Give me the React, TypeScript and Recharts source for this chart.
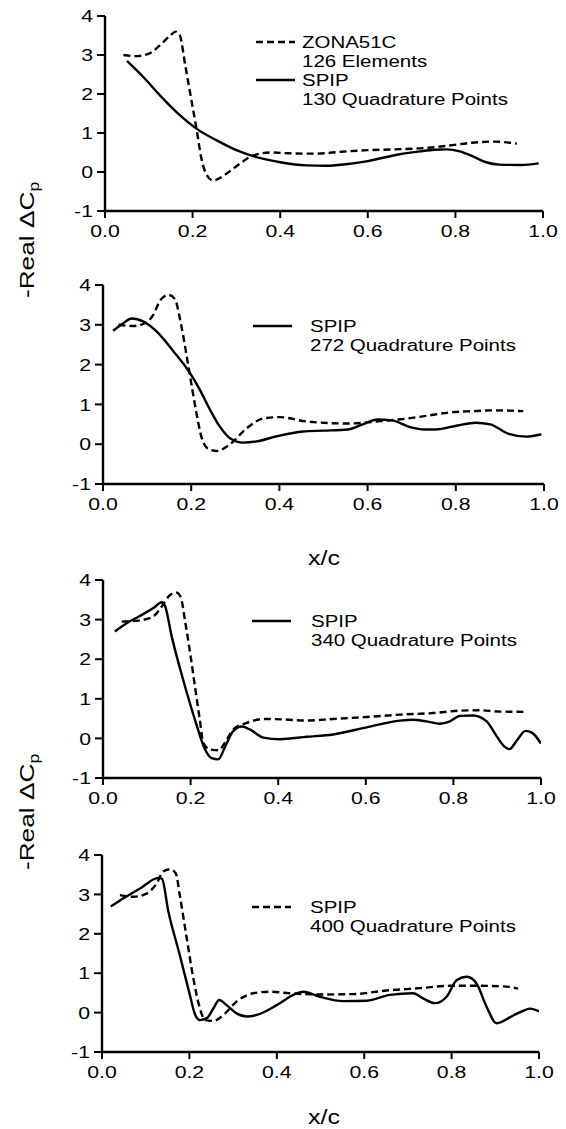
import { LineChart, Line, XAxis, YAxis } from 'recharts'

const FONT = '"Liberation Sans", Arial, Helvetica, sans-serif'
const SX = 1.25 // the scanned lettering is wide, stretch it a bit

type Pt = [number, number]

const xTicks = [0, 0.2, 0.4, 0.6, 0.8, 1.0]
const yTicks = [-1, 0, 1, 2, 3, 4]

// panel 1: ZONA51C 126 elements vs SPIP 130 points
const zona126: Pt[] = [
  [0.042, 3.0], [0.072, 2.97], [0.103, 3.05], [0.13, 3.3], [0.149, 3.5], [0.161, 3.6], [0.171, 3.5],
  [0.183, 2.75], [0.194, 2.05], [0.209, 1.1], [0.22, 0.35], [0.232, -0.07], [0.247, -0.22], [0.27, -0.1],
  [0.3, 0.15], [0.338, 0.42], [0.377, 0.5], [0.42, 0.48], [0.48, 0.47], [0.54, 0.52], [0.6, 0.56],
  [0.66, 0.58], [0.737, 0.62], [0.787, 0.68], [0.837, 0.75], [0.886, 0.78], [0.94, 0.73],
]
const spip130: Pt[] = [
  [0.05, 2.85], [0.088, 2.43], [0.126, 1.96], [0.164, 1.53], [0.213, 1.08], [0.255, 0.81], [0.3, 0.56],
  [0.346, 0.38], [0.4, 0.25], [0.46, 0.17], [0.505, 0.16], [0.55, 0.2], [0.6, 0.28], [0.67, 0.45],
  [0.72, 0.53], [0.753, 0.57], [0.78, 0.58], [0.81, 0.53], [0.84, 0.4], [0.87, 0.25], [0.9, 0.19],
  [0.95, 0.18], [0.99, 0.22],
]

// panel 2
const zona272: Pt[] = [
  [0.035, 3.0], [0.069, 2.97], [0.095, 3.04], [0.114, 3.25], [0.13, 3.62], [0.148, 3.75], [0.163, 3.65],
  [0.175, 3.12], [0.19, 2.2], [0.2, 1.54], [0.212, 0.78], [0.224, 0.15], [0.239, -0.12], [0.258, -0.17],
  [0.288, 0.0], [0.326, 0.4], [0.364, 0.65], [0.401, 0.68], [0.462, 0.57], [0.556, 0.52], [0.63, 0.58],
  [0.67, 0.62], [0.738, 0.72], [0.787, 0.8], [0.837, 0.83], [0.887, 0.85], [0.953, 0.83],
]
const spip272: Pt[] = [
  [0.023, 2.85], [0.046, 3.04], [0.065, 3.16], [0.092, 3.08], [0.122, 2.83], [0.16, 2.33], [0.197, 1.79],
  [0.22, 1.36], [0.243, 0.86], [0.265, 0.44], [0.288, 0.15], [0.318, 0.04], [0.349, 0.07], [0.394, 0.2],
  [0.454, 0.32], [0.5, 0.34], [0.556, 0.37], [0.589, 0.5], [0.622, 0.62], [0.655, 0.6], [0.696, 0.43],
  [0.73, 0.37], [0.754, 0.37], [0.804, 0.47], [0.845, 0.54], [0.878, 0.5], [0.92, 0.26], [0.96, 0.19],
  [0.994, 0.25],
]

// panel 3
const zona340: Pt[] = [
  [0.043, 2.95], [0.084, 2.98], [0.115, 3.08], [0.134, 3.33], [0.153, 3.62], [0.168, 3.68], [0.178, 3.55],
  [0.187, 2.99], [0.199, 2.15], [0.21, 1.31], [0.221, 0.47], [0.229, -0.11], [0.244, -0.28], [0.263, -0.3],
  [0.279, -0.1], [0.297, 0.22], [0.328, 0.39], [0.366, 0.49], [0.412, 0.48], [0.465, 0.45], [0.525, 0.49],
  [0.602, 0.54], [0.678, 0.6], [0.754, 0.64], [0.815, 0.7], [0.86, 0.71], [0.9, 0.68], [0.961, 0.67],
]
const spip340: Pt[] = [
  [0.027, 2.7], [0.054, 2.91], [0.084, 3.09], [0.115, 3.29], [0.134, 3.44], [0.142, 3.33], [0.157, 2.57],
  [0.183, 1.48], [0.21, 0.47], [0.233, -0.28], [0.248, -0.5], [0.263, -0.53], [0.279, -0.2], [0.297, 0.18],
  [0.317, 0.3], [0.336, 0.22], [0.366, 0.02], [0.404, -0.02], [0.465, 0.04], [0.525, 0.1], [0.602, 0.28],
  [0.678, 0.45], [0.708, 0.47], [0.739, 0.43], [0.769, 0.37], [0.792, 0.43], [0.815, 0.57], [0.845, 0.58],
  [0.876, 0.43], [0.899, 0.05], [0.918, -0.22], [0.928, -0.27], [0.945, -0.05], [0.965, 0.19], [0.98, 0.14],
  [1.0, -0.13],
]

// panel 4
const zona400: Pt[] = [
  [0.041, 2.98], [0.072, 2.94], [0.102, 3.02], [0.125, 3.28], [0.14, 3.58], [0.156, 3.64], [0.169, 3.53],
  [0.178, 2.98], [0.194, 1.88], [0.209, 0.87], [0.224, 0.11], [0.236, -0.19], [0.255, -0.21], [0.278, -0.06],
  [0.308, 0.28], [0.346, 0.49], [0.384, 0.53], [0.43, 0.49], [0.499, 0.46], [0.575, 0.47], [0.651, 0.56],
  [0.728, 0.62], [0.796, 0.68], [0.865, 0.68], [0.926, 0.66], [0.952, 0.61],
]
const spip400: Pt[] = [
  [0.02, 2.69], [0.049, 2.9], [0.087, 3.15], [0.129, 3.42], [0.137, 3.4], [0.152, 2.56], [0.178, 1.46],
  [0.201, 0.45], [0.213, -0.05], [0.224, -0.19], [0.24, -0.14], [0.255, 0.11], [0.268, 0.32], [0.285, 0.19],
  [0.308, -0.02], [0.331, -0.1], [0.354, -0.06], [0.4, 0.19], [0.438, 0.45], [0.461, 0.53], [0.499, 0.4],
  [0.552, 0.29], [0.606, 0.3], [0.659, 0.45], [0.712, 0.49], [0.735, 0.36], [0.762, 0.24], [0.789, 0.41],
  [0.812, 0.83], [0.835, 0.91], [0.857, 0.74], [0.88, 0.15], [0.903, -0.27], [0.94, -0.08], [0.965, 0.05],
  [0.98, 0.1], [1.0, 0.03],
]

const yLabel = '-Real ΔC'
const yLabelSub = 'p'
const xLabel = 'x/c'

const toRows = (pts: Pt[]) => pts.map(([x, y]) => ({ x, y }))

function XTick(props: any) {
  const { x, y, payload } = props
  return (
    <text transform={`translate(${x},${y}) scale(${SX},1)`} textAnchor="middle" dy="0.71em"
      fontSize={17} fontFamily={FONT} fill="#000">
      {Number(payload.value).toFixed(1)}
    </text>
  )
}

function YTick(props: any) {
  const { x, y, payload } = props
  return (
    <text transform={`translate(${x},${y}) scale(${SX},1)`} textAnchor="end" dy="0.36em"
      fontSize={17} fontFamily={FONT} fill="#000">
      {payload.value}
    </text>
  )
}

// left/right = x pixel of 0.0 / 1.0, top/bottom = y pixel of 4 / -1
const panels = [
  { left: 105, right: 543, top: 16, bottom: 211, dashed: zona126, solid: spip130 },
  { left: 103, right: 544, top: 285, bottom: 484, dashed: zona272, solid: spip272 },
  { left: 103, right: 541, top: 580, bottom: 778, dashed: zona340, solid: spip340 },
  { left: 102, right: 539, top: 855, bottom: 1052, dashed: zona400, solid: spip400 },
]

const legends = [
  { lineX: 256, lineY: 42, textX: 302, dashed: true, lines: ['ZONA51C', '126 Elements'] },
  { lineX: 256, lineY: 80, textX: 302, dashed: false, lines: ['SPIP', '130 Quadrature Points'] },
  { lineX: 253, lineY: 326, textX: 310, dashed: false, lines: ['SPIP', '272 Quadrature Points'] },
  { lineX: 252, lineY: 621, textX: 311, dashed: false, lines: ['SPIP', '340 Quadrature Points'] },
  { lineX: 252, lineY: 907, textX: 310, dashed: true, lines: ['SPIP', '400 Quadrature Points'] },
]

const axisStyle = { stroke: '#000', strokeWidth: 2.4 }
const tickStyle = { stroke: '#000', strokeWidth: 2 }

function Panel({ left, right, top, bottom, dashed, solid }: any) {
  const padTop = 10
  const axisH = 50
  const h = bottom - top + padTop + axisH
  return (
    <div style={{ position: 'absolute', left: 0, top: top - padTop }}>
      <LineChart width={566} height={h} margin={{ top: padTop, right: 566 - right, bottom: 0, left: 0 }}>
        <XAxis dataKey="x" type="number" domain={[0, 1]} ticks={xTicks} height={axisH}
          tick={(p: any) => <XTick {...p} />} tickSize={7} tickMargin={7}
          axisLine={axisStyle} tickLine={tickStyle} allowDataOverflow />
        <YAxis type="number" domain={[-1, 4]} ticks={yTicks} width={left}
          tick={(p: any) => <YTick {...p} />} tickSize={8} tickMargin={4}
          axisLine={axisStyle} tickLine={tickStyle} allowDataOverflow />
        <Line data={toRows(dashed)} dataKey="y" type="monotone" stroke="#000" strokeWidth={2.4}
          strokeDasharray="7 4" dot={false} activeDot={false} isAnimationActive={false} />
        <Line data={toRows(solid)} dataKey="y" type="monotone" stroke="#000" strokeWidth={2.4}
          dot={false} activeDot={false} isAnimationActive={false} />
      </LineChart>
    </div>
  )
}

export default function App() {
  return (
    <div style={{ position: 'absolute', left: 0, top: 0, width: 566, height: 1129, background: '#fff' }}>
      {panels.map((p, i) => <Panel key={i} {...p} />)}
      <svg width={566} height={1129} style={{ position: 'absolute', left: 0, top: 0, pointerEvents: 'none' }}
        fontFamily={FONT} fill="#000">
        {[240, 812].map((cy) => (
          <text key={cy} transform={`translate(34,${cy}) rotate(-90) scale(${SX},1)`} textAnchor="middle" fontSize={21}>
            {yLabel}<tspan fontSize={14} dy={5}>{yLabelSub}</tspan>
          </text>
        ))}
        {[565, 1124].map((by) => (
          <text key={by} transform={`translate(324,${by}) scale(${SX},1)`} textAnchor="middle" fontSize={20}>
            {xLabel}
          </text>
        ))}
        {legends.map((l, i) => (
          <g key={i}>
            <line x1={l.lineX} x2={l.lineX + 39} y1={l.lineY} y2={l.lineY} stroke="#000" strokeWidth={2.4}
              strokeDasharray={l.dashed ? '7 4' : undefined} />
            {l.lines.map((t, j) => (
              <text key={j} transform={`translate(${l.textX},${l.lineY + 6 + j * 19}) scale(1.28,1)`} fontSize={16}>
                {t}
              </text>
            ))}
          </g>
        ))}
      </svg>
    </div>
  )
}
